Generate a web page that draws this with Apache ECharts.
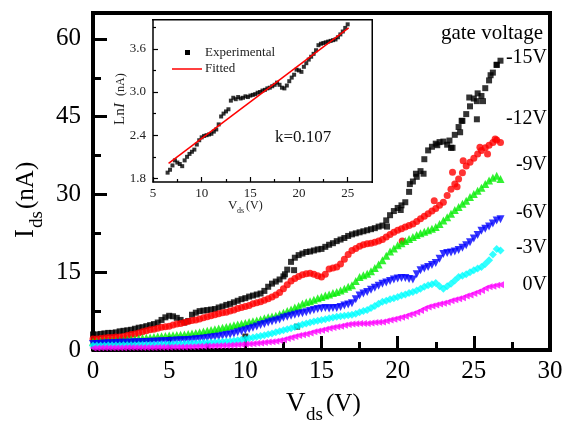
<!DOCTYPE html>
<html><head><meta charset="utf-8">
<script src="https://cdn.jsdelivr.net/npm/echarts@6/dist/echarts.min.js"></script>
<style>html,body{margin:0;padding:0;background:#fff}#c{width:571px;height:423px}</style>
</head><body><div id="c"></div>
<script>
// ---------- main chart data (Vds in V, Ids in nA) ----------
const vds = [0,0.25,0.5,0.75,1,1.25,1.5,1.75,2,2.25,2.5,2.75,3,3.25,3.5,3.75,4,4.25,4.5,4.75,5,5.25,5.5,5.75,6,6.25,6.5,6.75,7,7.25,7.5,7.75,8,8.25,8.5,8.75,9,9.25,9.5,9.75,10,10.25,10.5,10.75,11,11.25,11.5,11.75,12,12.25,12.5,12.75,13,13.25,13.5,13.75,14,14.25,14.5,14.75,15,15.25,15.5,15.75,16,16.25,16.5,16.75,17,17.25,17.5,17.75,18,18.25,18.5,18.75,19,19.25,19.5,19.75,20,20.25,20.5,20.75,21,21.25,21.5,21.75,22,22.25,22.5,22.75,23,23.25,23.5,23.75,24,24.25,24.5,24.75,25,25.25,25.5,25.75,26,26.25,26.5,26.75];

const ids_m15 = [3.0,3.0,3.1,3.2, 3.3,3.3,3.4,3.6, 3.7,3.8,3.9,4.1, 4.3,4.4,4.6,4.8, 5.0,5.3,5.8,6.3, 6.6,6.5,6.2,5.8, 5.3,5.6,6.8,7.2, 7.5,7.6,7.7,7.8, 7.9,8.2,8.4,8.7, 8.9,9.2,9.5,9.8, 10.0,10.3,10.5,10.7, 10.9,11.4,12.2,12.8, 13.2,13.6,14.2,15.5, 17.0,17.8,18.3,18.6, 18.9,19.0,19.2,19.4, 19.5,19.9,20.3,20.6, 21.0,21.3,21.6,22.0, 22.3,22.5,22.7,22.9, 23.1,23.3,23.5,23.8, 24.0,25.0,26.0,26.8, 27.4,27.9,28.5,30.5, 32.5,33.4,34.5,36.8, 38.5,39.2,39.8,40.1, 40.2,39.6,39.0,41.5, 43.0,44.2,45.5,47.0, 48.5,49.5,49.0,50.5, 52.0,53.5,55.0,55.8];
const ids_m12 = [2.1,2.1,2.2,2.3, 2.4,2.4,2.5,2.5, 2.6,2.8,3.0,3.1, 3.3,3.5,3.7,3.9, 4.0,4.2,4.4,4.5, 4.6,4.8,5.0,5.1, 5.3,5.5,5.7,5.8, 6.0,6.2,6.4,6.6, 6.8,7.0,7.2,7.3, 7.5,7.7,8.0,8.2, 8.4,8.6,8.9,9.1, 9.3,9.6,9.9,10.2, 10.6,11.1,11.8,12.6, 13.3,13.8,14.2,14.5, 14.7,14.8,14.6,14.3, 14.1,14.6,15.6,15.8, 16.0,16.6,17.5,18.4, 19.2,19.6,20.0,20.3, 20.5,20.6,20.8,21.0, 21.3,21.8,22.3,22.7, 23.1,23.4,23.7,24.0, 24.3,24.8,25.3,25.8, 26.3,26.8,27.3,27.9, 28.5,29.8,31.0,32.0, 33.0,34.2,35.5,36.2, 37.0,37.8,38.5,39.0, 39.5,40.0,40.5,40.0];
const ids_m9 = [1.6,1.6,1.65,1.7, 1.7,1.75,1.8,1.85, 1.9,2.0,2.05,2.1, 2.2,2.3,2.35,2.4, 2.5,2.6,2.65,2.7, 2.8,2.85,2.9,2.95, 3.0,3.1,3.2,3.3, 3.4,3.55,3.7,3.85, 4.0,4.15,4.3,4.45, 4.6,4.75,4.9,5.05, 5.2,5.4,5.55,5.7, 5.9,6.1,6.3,6.45, 6.6,6.9,7.2,7.5, 7.8,8.2,8.5,8.9, 9.2,9.4,9.7,10.0, 10.2,10.5,10.7,11.0, 11.2,11.5,11.8,12.2, 12.5,13.3,14.1,14.4, 14.7,15.2,15.8,16.5, 17.3,18.2,19.0,19.6, 20.2,20.6,21.0,21.4, 21.8,22.2,22.5,22.8, 23.1,23.4,23.7,24.3, 25.0,25.6,26.3,27.0, 27.6,28.2,28.8,29.5, 30.1,30.7,31.3,32.0, 32.7,33.2,33.6,33.0];
const ids_m6 = [1.15,1.18,1.2,1.25, 1.3,1.32,1.35,1.38, 1.4,1.42,1.45,1.48, 1.5,1.52,1.55,1.58, 1.6,1.63,1.67,1.7, 1.75,1.78,1.82,1.86, 1.9,1.95,2.0,2.05, 2.1,2.2,2.3,2.4, 2.5,2.6,2.75,2.9, 3.0,3.2,3.4,3.6, 3.8,4.05,4.3,4.55, 4.8,5.0,5.3,5.5, 5.7,5.9,6.2,6.4, 6.6,6.8,7.0,7.1, 7.3,7.5,7.7,7.9, 8.0,8.1,8.0,8.1, 8.1,8.3,8.6,8.8, 9.0,9.8,10.5,10.9, 11.2,11.6,12.0,12.4, 12.8,13.0,13.3,13.6, 13.8,13.9,13.9,13.7, 13.6,14.6,15.4,15.7, 16.0,16.4,16.8,17.6, 18.5,18.7,18.8,19.0, 19.3,19.7,20.2,20.8, 21.5,22.2,23.0,23.4, 23.8,24.4,25.0,25.2];
const ids_m3 = [0.8,0.8,0.82,0.83, 0.85,0.86,0.87,0.88, 0.9,0.91,0.92,0.93, 0.95,0.96,0.97,0.98, 1.0,1.02,1.05,1.07, 1.1,1.12,1.15,1.17, 1.2,1.24,1.28,1.32, 1.35,1.39,1.42,1.46, 1.5,1.55,1.6,1.65, 1.7,1.8,1.9,2.0, 2.1,2.25,2.4,2.55, 2.7,2.85,3.05,3.2, 3.4,3.6,3.8,4.0, 4.2,4.45,4.7,4.9, 5.1,5.3,5.5,5.65, 5.8,5.95,6.1,6.25, 6.4,6.5,6.6,6.7, 6.8,7.0,7.3,7.5, 7.7,8.1,8.5,8.9, 9.3,9.5,9.8,10.0, 10.2,10.5,10.7,11.0, 11.2,11.5,11.8,12.2, 12.5,12.7,12.9,12.3, 11.8,12.3,12.8,13.4, 14.1,14.3,14.6,15.0, 15.4,15.7,16.0,16.6, 17.3,18.4,19.5,19.2];
const ids_0 = [0.4,0.4,0.41,0.41, 0.42,0.42,0.43,0.44, 0.45,0.46,0.47,0.48, 0.5,0.5,0.5,0.5, 0.5,0.51,0.52,0.54, 0.55,0.56,0.58,0.59, 0.6,0.63,0.65,0.68, 0.7,0.73,0.75,0.78, 0.8,0.83,0.85,0.88, 0.9,0.95,1.0,1.05, 1.1,1.16,1.22,1.28, 1.35,1.43,1.52,1.6, 1.7,1.85,2.0,2.2, 2.4,2.6,2.8,2.95, 3.1,3.3,3.5,3.65, 3.8,4.0,4.2,4.35, 4.5,4.6,4.75,4.9, 5.0,5.05,5.1,5.1, 5.1,5.2,5.3,5.35, 5.4,5.6,5.8,5.95, 6.1,6.3,6.5,6.8, 7.0,7.3,7.6,8.0, 8.3,8.5,8.7,8.85, 9.0,9.2,9.5,9.7, 9.9,10.1,10.4,10.6, 10.9,11.2,11.5,11.9, 12.2,12.3,12.5,12.6];

// scattered extra points
const extra_m15 = [[10.0,2.6],[12.6,14.6],[13.2,15.4],[13.4,4.5],[19.3,23.8],[20.2,27.0],[20.8,32.0],[21.2,34.0],[21.7,34.0],[22.6,39.5],[23.4,40.4],[23.6,39.0],[24.1,42.0],[24.2,44.2],[24.7,48.7],[25.2,44.5],[25.2,48.0],[25.6,48.0],[26.1,53.0],[26.5,55.0]];
const extra_m12 = [[20.3,21.0],[22.4,28.8],[23.6,34.3],[23.9,31.5],[24.3,36.5],[25.4,39.1],[25.9,37.8],[26.4,40.7]];

const gateLabels = ['-15V','-12V','-9V','-6V','-3V','0V'];
const yTicks = [0,15,30,45,60];
const yMinorTicks = [7.5,22.5,37.5,52.5];

// ---------- inset data (Ln I vs Vds) ----------
const insetV = [6.5,6.75,7,7.25,7.5,7.75,8,8.25,8.5,8.75,9,9.25,9.5,9.75,10,10.25,10.5,10.75,11,11.25,11.5,11.75,12,12.25,12.5,12.75,13,13.25,13.5,13.75,14,14.25,14.5,14.75,15,15.25,15.5,15.75,16,16.25,16.5,16.75,17,17.25,17.5,17.75,18,18.25,18.5,18.75,19,19.25,19.5,19.75,20,20.25,20.5,20.75,21,21.25,21.5,21.75,22,22.25,22.5,22.75,23,23.25,23.5,23.75,24,24.25,24.5,24.75,25];
const insetLnI = [1.88,1.92,1.98,2.05,2.02,2.00,1.97,2.05,2.10,2.14,2.17,2.20,2.27,2.33,2.37,2.39,2.40,2.41,2.42,2.45,2.48,2.55,2.66,2.70,2.73,2.76,2.88,2.92,2.90,2.93,2.91,2.92,2.94,2.93,2.95,2.96,2.97,2.99,3.00,3.02,3.03,3.05,3.06,3.08,3.10,3.13,3.10,3.06,3.05,3.09,3.15,3.20,3.24,3.31,3.30,3.28,3.35,3.40,3.45,3.49,3.53,3.58,3.65,3.67,3.68,3.69,3.70,3.71,3.72,3.73,3.76,3.80,3.84,3.89,3.94];
const fitV = [6.6, 25.1];
const fitLnI = [2.01, 3.89];
const insetXTicks = [5,10,15,20,25];
const insetXMinor = [7.5,12.5,17.5,22.5];
const insetYTicks = [1.8,2.4,3.0,3.6];
const insetYMinor = [2.1,2.7,3.3,3.9];

// ---------- build ----------
const SERIF = 'Liberation Serif';
function pairs(xs, ys){ return xs.map((x,i)=>[x, ys[i]]); }

const mainSeries = [
  {name:gateLabels[0], data: pairs(vds, ids_m15).concat(extra_m15), color:'#000000', symbol:'rect', size:6, rot:0},
  {name:gateLabels[1], data: pairs(vds, ids_m12).concat(extra_m12), color:'#ff0000', symbol:'circle', size:7, rot:0},
  {name:gateLabels[2], data: pairs(vds, ids_m9), color:'#00ee00', symbol:'triangle', size:8, rot:0},
  {name:gateLabels[3], data: pairs(vds, ids_m6), color:'#0000ff', symbol:'triangle', size:8, rot:180},
  {name:gateLabels[4], data: pairs(vds, ids_m3), color:'#00ffff', symbol:'diamond', size:8, rot:0},
  {name:gateLabels[5], data: pairs(vds, ids_0), color:'#ff00ff', symbol:'triangle', size:7, rot:90}
].map(s => ({
  name: s.name, type:'scatter', xAxisIndex:0, yAxisIndex:0, data:s.data,
  symbol:s.symbol, symbolSize:s.size, symbolRotate:s.rot,
  itemStyle:{color:s.color}, silent:true
}));

const tickLine = w => ({color:'#000', width:w});

const option = {
  animation:false,
  backgroundColor:'#fff',
  grid:[
    {left:93, right:21, top:13, bottom:73},
    {left:153, top:20, width:219, height:162, show:true, borderWidth:0, backgroundColor:'#fff'}
  ],
  xAxis:[
    {gridIndex:0, type:'value', position:'bottom', min:0, max:30, interval:5,
     axisLine:{lineStyle:tickLine(4)},
     axisTick:{inside:true, length:14, lineStyle:tickLine(3)},
     minorTick:{show:true, splitNumber:2, length:8, lineStyle:tickLine(3)},
     splitLine:{show:false},
     axisLabel:{fontFamily:SERIF, fontSize:25, color:'#000', margin:9}},
    {gridIndex:1, type:'value', position:'bottom', min:5, max:27.5,
     axisLine:{lineStyle:tickLine(1.5)},
     axisTick:{inside:true, length:5, customValues:insetXTicks, lineStyle:tickLine(1.2)},
     axisLabel:{customValues:insetXTicks, fontFamily:SERIF, fontSize:13, color:'#222', margin:5},
     splitLine:{show:false}},
    {gridIndex:1, type:'value', position:'bottom', min:5, max:27.5,
     axisLine:{show:false},
     axisTick:{inside:true, length:3, customValues:insetXMinor, lineStyle:tickLine(1.2)},
     axisLabel:{show:false}, splitLine:{show:false}}
  ],
  yAxis:[
    {gridIndex:0, type:'value', position:'left', min:0, max:65,
     axisLine:{show:true, lineStyle:tickLine(4)},
     axisTick:{inside:true, length:14, customValues:yTicks, lineStyle:tickLine(3)},
     axisLabel:{customValues:yTicks, fontFamily:SERIF, fontSize:25, color:'#000', margin:12},
     splitLine:{show:false}},
    {gridIndex:0, type:'value', position:'left', min:0, max:65,
     axisLine:{show:false},
     axisTick:{inside:true, length:8, customValues:yMinorTicks, lineStyle:tickLine(3)},
     axisLabel:{show:false}, splitLine:{show:false}},
    {gridIndex:1, type:'value', position:'left', min:1.75, max:4.0,
     axisLine:{show:true, lineStyle:tickLine(1.5)},
     axisTick:{inside:true, length:5, customValues:insetYTicks, lineStyle:tickLine(1.2)},
     axisLabel:{customValues:insetYTicks, formatter:v=>v.toFixed(1), fontFamily:SERIF, fontSize:13, color:'#222', margin:7},
     splitLine:{show:false}},
    {gridIndex:1, type:'value', position:'left', min:1.75, max:4.0,
     axisLine:{show:false},
     axisTick:{inside:true, length:3, customValues:insetYMinor, lineStyle:tickLine(1.2)},
     axisLabel:{show:false}, splitLine:{show:false}}
  ],
  series: mainSeries.concat([
    {name:'Experimental', type:'scatter', xAxisIndex:1, yAxisIndex:2, data:pairs(insetV, insetLnI),
     symbol:'rect', symbolSize:4, itemStyle:{color:'#000'}, silent:true},
    {name:'Fitted', type:'line', xAxisIndex:1, yAxisIndex:2, data:pairs(fitV, fitLnI),
     symbol:'none', lineStyle:{color:'#ff0000', width:1.5}, silent:true, z:3}
  ]),
  graphic:[
    // plot frames (top & right edges) as filled bars
    {type:'rect', shape:{x:91, y:11, width:461, height:4}, style:{fill:'#000'}, z:20},
    {type:'rect', shape:{x:548, y:11, width:4, height:341}, style:{fill:'#000'}, z:20},
    {type:'rect', shape:{x:152, y:19, width:221, height:1.5}, style:{fill:'#000'}, z:20},
    {type:'rect', shape:{x:371.5, y:19, width:1.5, height:164}, style:{fill:'#000'}, z:20},
    // main y axis name: I_ds(nA)
    {type:'group', x:26, y:238, rotation:Math.PI/2, children:[
      {type:'text', x:0, y:0, style:{text:'I', font:'27px "Liberation Serif"', fill:'#000', align:'left', verticalAlign:'middle'}},
      {type:'text', x:10, y:11, style:{text:'ds', font:'19px "Liberation Serif"', fill:'#000', align:'left', verticalAlign:'middle'}},
      {type:'text', x:29, y:0, style:{text:'(nA)', font:'25px "Liberation Serif"', fill:'#000', align:'left', verticalAlign:'middle'}}
    ]},
    // main x axis name: V_ds(V)
    {type:'text', x:286, y:404, style:{text:'V', font:'27px "Liberation Serif"', fill:'#000', align:'left', verticalAlign:'middle'}},
    {type:'text', x:306, y:415, style:{text:'ds', font:'19px "Liberation Serif"', fill:'#000', align:'left', verticalAlign:'middle'}},
    {type:'text', x:326, y:404, style:{text:'(V)', font:'25px "Liberation Serif"', fill:'#000', align:'left', verticalAlign:'middle'}},
    // gate voltage labels
    {type:'text', x:543, y:33, style:{text:'gate voltage', font:'21px "Liberation Serif"', fill:'#000', align:'right', verticalAlign:'middle'}},
    {type:'text', x:547, y:58, style:{text:gateLabels[0], font:'20px "Liberation Serif"', fill:'#000', align:'right', verticalAlign:'middle'}},
    {type:'text', x:547, y:119, style:{text:gateLabels[1], font:'20px "Liberation Serif"', fill:'#000', align:'right', verticalAlign:'middle'}},
    {type:'text', x:547, y:165, style:{text:gateLabels[2], font:'20px "Liberation Serif"', fill:'#000', align:'right', verticalAlign:'middle'}},
    {type:'text', x:547, y:213, style:{text:gateLabels[3], font:'20px "Liberation Serif"', fill:'#000', align:'right', verticalAlign:'middle'}},
    {type:'text', x:547, y:248, style:{text:gateLabels[4], font:'20px "Liberation Serif"', fill:'#000', align:'right', verticalAlign:'middle'}},
    {type:'text', x:547, y:285, style:{text:gateLabels[5], font:'20px "Liberation Serif"', fill:'#000', align:'right', verticalAlign:'middle'}},
    // inset legend
    {type:'rect', shape:{x:185, y:50, width:5, height:5}, style:{fill:'#000'}, z:10},
    {type:'text', x:205, y:53, style:{text:'Experimental', font:'13px "Liberation Serif"', fill:'#222', align:'left', verticalAlign:'middle'}, z:10},
    {type:'line', shape:{x1:172, y1:69, x2:202, y2:69}, style:{stroke:'#ff0000', lineWidth:1.5}, z:10},
    {type:'text', x:205, y:69, style:{text:'Fitted', font:'13px "Liberation Serif"', fill:'#222', align:'left', verticalAlign:'middle'}, z:10},
    {type:'text', x:275, y:138, style:{text:'k=0.107', font:'17px "Liberation Serif"', fill:'#111', align:'left', verticalAlign:'middle'}, z:10},
    // inset y name: LnI (nA)
    {type:'group', x:120, y:125, rotation:Math.PI/2, z:10, children:[
      {type:'text', x:0, y:0, style:{text:'Ln', font:'15px "Liberation Serif"', fill:'#222', align:'left', verticalAlign:'middle'}},
      {type:'text', x:17, y:0, style:{text:'I', font:'italic 15px "Liberation Serif"', fill:'#222', align:'left', verticalAlign:'middle'}},
      {type:'text', x:29, y:1, style:{text:'(nA)', font:'12px "Liberation Serif"', fill:'#222', align:'left', verticalAlign:'middle'}}
    ]},
    // inset x name: V_ds (V)
    {type:'text', x:228, y:206, style:{text:'V', font:'13px "Liberation Serif"', fill:'#222', align:'left', verticalAlign:'middle'}, z:10},
    {type:'text', x:237, y:211, style:{text:'ds', font:'8px "Liberation Serif"', fill:'#222', align:'left', verticalAlign:'middle'}, z:10},
    {type:'text', x:246, y:206, style:{text:'(V)', font:'12px "Liberation Serif"', fill:'#222', align:'left', verticalAlign:'middle'}, z:10}
  ]
};

const chart = echarts.init(document.getElementById('c'), null, {renderer:'canvas'});
chart.setOption(option);
</script>
</body></html>
